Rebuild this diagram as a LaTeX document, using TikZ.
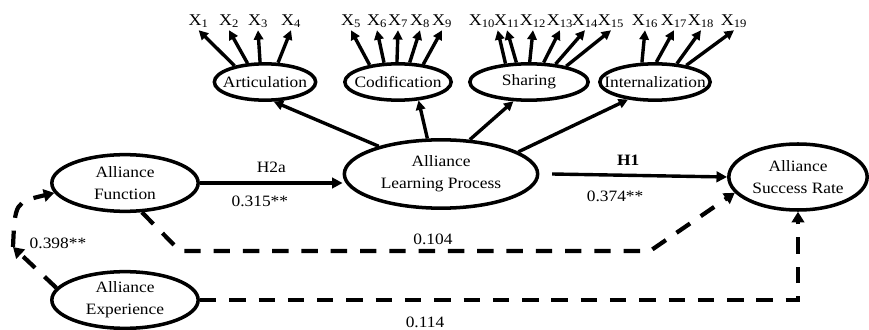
\documentclass[tikz,border=0pt]{standalone}
\usepackage{fontspec}
\setmainfont{Liberation Serif}[FakeStretch=1.1]
\usetikzlibrary{shapes.geometric, positioning, arrows.meta}

\tikzset{
    latent/.style={ellipse, draw, line width=3pt, inner sep=0pt},
    lbl/.style={align=center, inner sep=0pt},
    ind/.style={inner sep=2pt, font=\fontsize{14}{16}\selectfont},
    link/.style={->, line width=2.9pt},
    corr/.style={-{Triangle[length=9pt,width=10.5pt]}, line width=3.6pt, dash pattern=on 14pt off 11pt},
}

\begin{document}
\begin{tikzpicture}[font=\fontsize{13.5}{19}\selectfont, >={Triangle[length=8pt,width=8pt]}]
                \useasboundingbox (0, 0) rectangle (26.07, 9.87);

                \node[latent, minimum width=4.39cm, minimum height=1.7cm, label={[lbl]center:Alliance\\Function}] (af) at (3.75, 4.38) {};
                \node[latent, minimum width=4.39cm, minimum height=1.7cm, label={[lbl]center:Alliance\\Experience}] (ae) at (3.75, 0.87) {};
                \node[latent, minimum width=5.8cm, minimum height=2.05cm, label={[lbl]center:Alliance\\Learning Process}] (alp) at (13.23, 4.65) {};
                \node[latent, minimum width=4.15cm, minimum height=1.98cm, label={[lbl]center:Alliance\\Success Rate}] (asr) at (23.94, 4.56) {};

                \node[latent, minimum width=3.04cm, minimum height=1.09cm, label={[lbl]center:Articulation}] (art) at (7.95, 7.41) {};
                \node[latent, minimum width=3.19cm, minimum height=1.09cm, label={[lbl]center:Codification}] (cod) at (11.94, 7.41) {};
                \node[latent, minimum width=3.55cm, minimum height=1.09cm, label={[lbl]center:Sharing}] (sha) at (15.87, 7.41) {};
                \node[latent, minimum width=3.31cm, minimum height=1.09cm, label={[lbl]center:Internalization}] (int) at (19.65, 7.41) {};

                \node[ind] (x1) at (5.96, 9.24) {X\textsubscript{1}};
                \node[ind] (x2) at (6.87, 9.24) {X\textsubscript{2}};
                \node[ind] (x3) at (7.74, 9.24) {X\textsubscript{3}};
                \node[ind] (x4) at (8.73, 9.24) {X\textsubscript{4}};
                \node[ind] (x5) at (10.53, 9.24) {X\textsubscript{5}};
                \node[ind] (x6) at (11.31, 9.24) {X\textsubscript{6}};
                \node[ind] (x7) at (11.94, 9.24) {X\textsubscript{7}};
                \node[ind] (x8) at (12.6, 9.24) {X\textsubscript{8}};
                \node[ind] (x9) at (13.26, 9.24) {X\textsubscript{9}};
                \node[ind] (x10) at (14.46, 9.24) {X\textsubscript{10}};
                \node[ind] (x11) at (15.21, 9.24) {X\textsubscript{11}};
                \node[ind] (x12) at (15.99, 9.24) {X\textsubscript{12}};
                \node[ind] (x13) at (16.8, 9.24) {X\textsubscript{13}};
                \node[ind] (x14) at (17.55, 9.24) {X\textsubscript{14}};
                \node[ind] (x15) at (18.33, 9.24) {X\textsubscript{15}};
                \node[ind] (x16) at (19.35, 9.24) {X\textsubscript{16}};
                \node[ind] (x17) at (20.22, 9.24) {X\textsubscript{17}};
                \node[ind] (x18) at (21.03, 9.24) {X\textsubscript{18}};
                \node[ind] (x19) at (22.02, 9.24) {X\textsubscript{19}};

                \draw[link] (art.152) -- (x1.south);
                \draw[link] (art.133) -- (x2.south);
                \draw[link] (art.104) -- (x3.south);
                \draw[link] (art.56) -- (x4.south);
                \draw[link] (cod.149) -- (x5.south);
                \draw[link] (cod.126) -- (x6.south);
                \draw[link] (cod.93) -- (x7.south);
                \draw[link] (cod.59) -- (x8.south);
                \draw[link] (cod.35) -- (x9.south);
                \draw[link] (sha.142) -- (x10.south east);
                \draw[link] (sha.123) -- (x11.south);
                \draw[link] (sha.88) -- (x12.south);
                \draw[link] (sha.53) -- (x13.south);
                \draw[link] (sha.34) -- (x14.south);
                \draw[link] (sha.23) -- (x15.south);
                \draw[link] (int.124) -- (x16.south);
                \draw[link] (int.86) -- (x17.south);
                \draw[link] (int.40) -- (x18.south);
                \draw[link] (int.28) -- (x19.south);

                \draw[link] (alp.156) -- (art.294);
                \draw[link] (alp.111) -- (cod.318);
                \draw[link] (alp.50) -- (sha.231);
                \draw[link] (alp.16) -- (int.213);

                \draw[link, >={Triangle[length=9pt,width=9pt]}] (af.east) -- (af.east -| alp.west)
                    node[midway, above=4pt] (h2a) {H2a}
                    node[pos=0.42, below=6pt] (b2a) {0.315**};
                \draw[link, >={Triangle[length=9pt,width=9pt]}] ([xshift=0.38cm]alp.east) -- (asr.west)
                    node[pos=0.435, above=4pt] (h1) {\textbf{H1}}
                    node[pos=0.36, below=9pt] (b1) {0.374**};

                \coordinate (c1) at (5.4, 2.34);
                \coordinate (c2) at (19.5, 2.34);
                \coordinate (m) at (0.39, 2.46);
                \draw[corr] (af.300) -- (c1) -- (c2) -- (asr.194);
                \draw[corr] (ae.east) -- (ae.east -| asr.south) -- (asr.south);
                \draw[corr] (ae.170) -- (m);
                \draw[corr] (m) .. controls (0.45, 3.8) .. (af.188);

                \node (p104) at (12.99, 2.70) {0.104};
                \node (p114) at (12.75, 0.21) {0.114};
                \node (p398) at (1.74, 2.58) {0.398**};
            \end{tikzpicture}
\end{document}
